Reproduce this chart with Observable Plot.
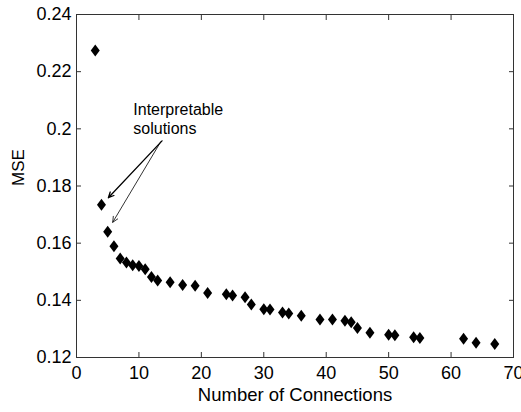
<!DOCTYPE html>
<html>
<head>
<meta charset="utf-8">
<script src="https://cdn.jsdelivr.net/npm/d3@7"></script>
<script src="https://cdn.jsdelivr.net/npm/@observablehq/plot@0.6"></script>
<style>
  body { margin: 0; background: #fff; }
  #chart svg { font-family: "Liberation Sans", Arial, Helvetica, sans-serif; }
</style>
</head>
<body>
<div id="chart"></div>
<script>
// Model size (number of connections) against mean squared error
const connections = [3, 4, 5, 6, 7, 8, 9, 10, 11, 12, 13, 15, 17, 19, 21, 24, 25, 27, 28, 30, 31, 33, 34, 36, 39, 41, 43, 44, 45, 47, 50, 51, 54, 55, 62, 64, 67];
const mse = [0.2274, 0.1734, 0.1640, 0.1589, 0.1546, 0.1532, 0.1523, 0.1520, 0.1509, 0.1482, 0.1469, 0.1463, 0.1454, 0.1451, 0.1426, 0.1421, 0.1417, 0.1411, 0.1385, 0.1369, 0.1368, 0.1357, 0.1354, 0.1346, 0.1333, 0.1333, 0.1329, 0.1323, 0.1303, 0.1287, 0.1280, 0.1278, 0.1271, 0.1268, 0.1266, 0.1252, 0.1247];

const xTicks = [0, 10, 20, 30, 40, 50, 60, 70];
const yTicks = [0.12, 0.14, 0.16, 0.18, 0.2, 0.22, 0.24];
const yTickLabels = ["0.12", "0.14", "0.16", "0.18", "0.2", "0.22", "0.24"];

// Annotation text and its two arrows
const noteLines = ["Interpretable", "solutions"];
const noteX = [9.1, 9.1];
const noteY = [0.2068, 0.2001];
const arrowX1 = [13.7, 13.5];
const arrowY1 = [0.1958, 0.1955];
const arrowX2 = [5.1, 5.8];
const arrowY2 = [0.1759, 0.1673];
const arrowWidth = [1.3, 0.8];

const points = connections.map((c, i) => ({c, m: mse[i]}));
const notes = noteLines.map((t, i) => ({t, x: noteX[i], y: noteY[i]}));
const arrows = arrowX1.map((x1, i) => ({x1, y1: arrowY1[i], x2: arrowX2[i], y2: arrowY2[i], w: arrowWidth[i]}));

// Diamond a little taller than it is wide
const tallDiamond = {
  draw(ctx, size) {
    const r = Math.sqrt(size / Math.PI);
    const w = r * 0.9, h = r * 1.2;
    ctx.moveTo(0, -h);
    ctx.lineTo(w, 0);
    ctx.lineTo(0, h);
    ctx.lineTo(-w, 0);
    ctx.closePath();
  }
};

const axisColor = "#333";

const chart = Plot.plot({
  width: 521,
  height: 412,
  marginLeft: 76,
  marginRight: 8,
  marginTop: 14,
  marginBottom: 55,
  style: {fontFamily: "'Liberation Sans', Arial, Helvetica, sans-serif", background: "#fff", color: "#000"},
  x: {domain: [0, 70]},
  y: {domain: [0.12, 0.24]},
  marks: [
    Plot.frame({stroke: axisColor, strokeWidth: 1}),
    Plot.axisX(xTicks, {anchor: "bottom", tickSize: -5, tickPadding: 14, fontSize: 18, stroke: axisColor, fill: "#000", label: null}),
    Plot.axisX(xTicks, {anchor: "top", tickSize: -5, fill: "none", label: null, stroke: axisColor}),
    Plot.axisY(yTicks, {anchor: "left", tickSize: -5, tickPadding: 10, fontSize: 18, stroke: axisColor, fill: "#000", label: null,
      tickFormat: (d) => yTickLabels[yTicks.indexOf(d)]}),
    Plot.axisY(yTicks, {anchor: "right", tickSize: -5, fill: "none", label: null, stroke: axisColor}),
    Plot.text(["Number of Connections"], {frameAnchor: "bottom", dy: 43, fontSize: 18.5, fill: "#000"}),
    Plot.text(["MSE"], {frameAnchor: "left", dx: -58, rotate: -90, fontSize: 17, fill: "#000"}),
    Plot.dot(points, {x: "c", y: "m", symbol: tallDiamond, r: 5, fill: "#000", stroke: "none"}),
    Plot.arrow(arrows, {x1: "x1", y1: "y1", x2: "x2", y2: "y2", strokeWidth: "w", stroke: "#000", headLength: 9, headAngle: 50}),
    Plot.text(notes, {x: "x", y: "y", text: "t", textAnchor: "start", fontSize: 16, fill: "#000"})
  ]
});

document.getElementById("chart").appendChild(chart);
</script>
</body>
</html>
